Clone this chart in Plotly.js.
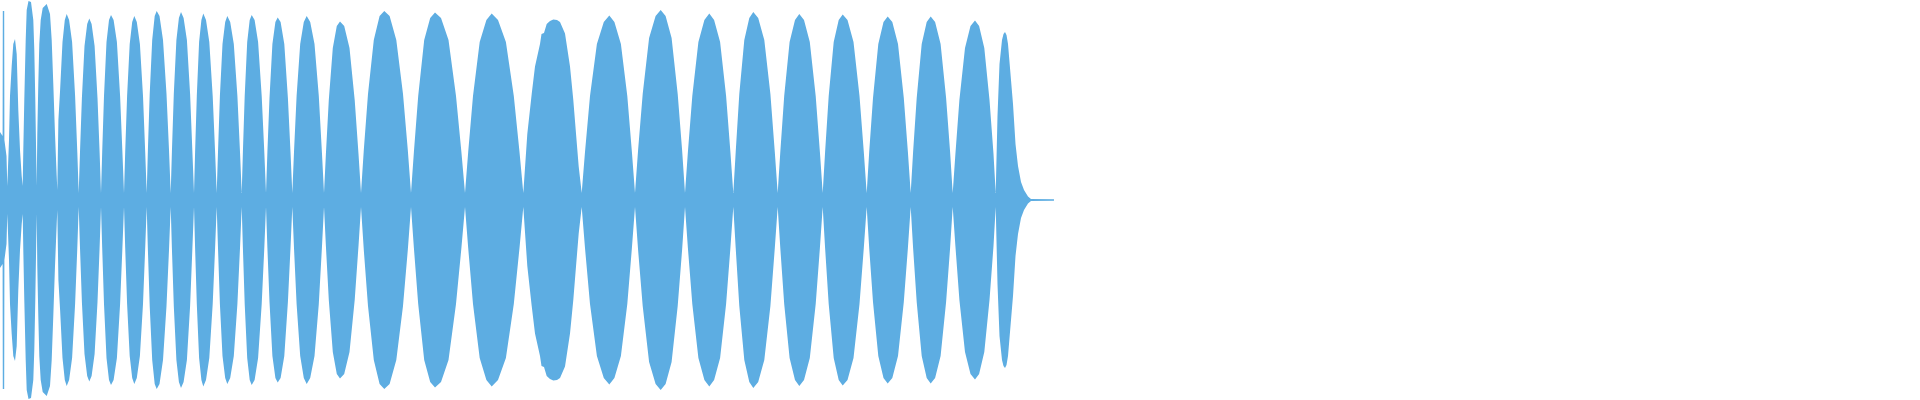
<!DOCTYPE html>
<html>
<head>
<meta charset="utf-8">
<script src="https://cdn.plot.ly/plotly-3.0.1.min.js"></script>
<style>html,body{margin:0;padding:0;background:#fff;}#chart{width:1920px;height:400px;}</style>
</head>
<body>
<div id="chart"></div>
<script>
// Waveform envelope: sample position and peak amplitude (symmetric about 0)
const samplePos = [
  0, 2.6, 2.8, 4.2, 4.4, 6.5, 7.3,
  9, 10, 11.7, 13.3, 15, 16.7, 18.3, 20, 21.7, 22.7,
  23.3, 24.3, 25.7, 26.7, 28.5, 31, 33.3, 34.3, 35.3, 36.1, 36.7,
  37.3, 38.3, 39.3, 40.7, 42.7, 46.7, 50, 51.7, 53.3, 55, 56.7, 57.3,
  58.4, 60.1, 62.5, 64.8, 66.7, 69.1, 72.1, 75.1, 77.3, 78.7,
  80.0, 81.9, 84.5, 87.2, 89.3, 91.6, 94.6, 97.5, 99.6, 101,
  102.2, 104, 106.5, 109, 111, 113.6, 116.9, 120.1, 122.4, 124,
  125.2, 127.1, 129.7, 132.2, 134.3, 136.8, 139.9, 143, 145.2, 146.7,
  147.9, 149.7, 152.2, 154.7, 156.7, 159.5, 163, 166.5, 169, 170.7,
  171.9, 173.8, 176.4, 178.9, 181, 183.6, 186.9, 190.1, 192.4, 194,
  195.1, 196.8, 199.1, 201.4, 203.3, 206, 209.3, 212.7, 215.1, 216.7,
  218, 219.9, 222.5, 225.2, 227.3, 230.2, 233.8, 237.4, 240, 241.7,
  242.9, 244.7, 247.2, 249.7, 251.7, 254.6, 258.1, 261.7, 264.3, 266,
  267.4, 269.5, 272.4, 275.4, 277.7, 280.6, 284.3, 287.9, 290.5, 292.3,
  294, 296.6, 300.2, 303.8, 306.7, 310.2, 314.5, 318.8, 321.9, 324,
  325.9, 328.8, 332.8, 336.8, 340, 344.2, 349.5, 354.7, 358.5, 361,
  363.8, 368, 373.8, 379.6, 384.3, 389.6, 396.3, 403, 407.8, 411,
  413.9, 418.2, 424.2, 430.2, 435, 441, 448.5, 456, 461.4, 465,
  468.2, 473, 479.7, 486.4, 491.7, 498, 505.9, 513.8, 519.5, 523.3,
  527.3, 531.7, 535, 540, 541.5, 544, 546.7, 550, 553.3, 557, 560, 565, 570, 573.3, 576, 578.7, 581.7,
  585, 590, 596.9, 603.8, 609.3, 614.4, 620.9, 627.3, 631.9, 635,
  638.1, 642.7, 649.1, 655.6, 660.7, 665.6, 671.6, 677.7, 682.1, 685,
  687.9, 692.3, 698.4, 704.4, 709.3, 714.1, 720.1, 726.1, 730.4, 733.3,
  735.7, 739.3, 744.3, 749.3, 753.3, 758.2, 764.3, 770.4, 774.8, 777.7,
  780.3, 784.2, 789.6, 795, 799.3, 804, 809.8, 815.7, 819.9, 822.7,
  825.1, 828.7, 833.7, 838.7, 842.7, 847.5, 853.5, 859.5, 863.8, 866.7,
  869.2, 873, 878.3, 883.5, 887.7, 892.3, 898, 903.8, 907.9, 910.7,
  913.1, 916.7, 921.7, 926.7, 930.7, 935.1, 940.6, 946.1, 950.1, 952.7,
  955.4, 959.4, 965, 970.5, 975, 979.1, 984.3, 989.5, 993.5, 995.7,
  997.5, 999.5, 1002, 1003.5, 1005, 1006.5, 1008, 1010.5, 1013, 1015.5, 1018, 1021, 1024, 1028, 1031,
  1054
];
const amplitude = [
  0.34, 0.32, 0.945, 0.945, 0.3, 0.22, 0.07,
  0.3, 0.52, 0.67, 0.78, 0.805, 0.73, 0.45, 0.25, 0.12, 0.07,
  0.25, 0.5, 0.8, 0.95, 0.995, 0.99, 0.9, 0.75, 0.5, 0.25, 0.07,
  0.33, 0.58, 0.78, 0.9, 0.96, 0.98, 0.93, 0.8, 0.58, 0.33, 0.12, 0.05,
  0.4, 0.55, 0.79, 0.9, 0.93, 0.9, 0.79, 0.52, 0.24, 0.035,
  0.24, 0.51, 0.77, 0.88, 0.908, 0.88, 0.77, 0.51, 0.24, 0.035,
  0.24, 0.52, 0.79, 0.9, 0.925, 0.9, 0.79, 0.52, 0.24, 0.035,
  0.24, 0.52, 0.78, 0.89, 0.92, 0.89, 0.78, 0.52, 0.24, 0.035,
  0.25, 0.53, 0.8, 0.92, 0.945, 0.92, 0.8, 0.53, 0.25, 0.035,
  0.24, 0.53, 0.8, 0.91, 0.94, 0.91, 0.8, 0.53, 0.24, 0.035,
  0.24, 0.52, 0.79, 0.9, 0.933, 0.9, 0.79, 0.52, 0.24, 0.035,
  0.24, 0.52, 0.78, 0.89, 0.92, 0.89, 0.78, 0.52, 0.24, 0.035,
  0.24, 0.52, 0.79, 0.9, 0.925, 0.9, 0.79, 0.52, 0.24, 0.035,
  0.24, 0.51, 0.78, 0.89, 0.913, 0.89, 0.78, 0.51, 0.24, 0.035,
  0.24, 0.52, 0.78, 0.89, 0.92, 0.89, 0.78, 0.52, 0.24, 0.035,
  0.23, 0.5, 0.76, 0.87, 0.892, 0.87, 0.76, 0.5, 0.23, 0.035,
  0.25, 0.53, 0.8, 0.92, 0.945, 0.92, 0.8, 0.53, 0.25, 0.035,
  0.24, 0.52, 0.8, 0.91, 0.937, 0.91, 0.8, 0.52, 0.24, 0.035,
  0.24, 0.52, 0.79, 0.9, 0.933, 0.9, 0.79, 0.52, 0.24, 0.035,
  0.33, 0.53, 0.667, 0.78, 0.83, 0.835, 0.88, 0.895, 0.903, 0.9, 0.89, 0.833, 0.667, 0.5, 0.333, 0.167, 0.035,
  0.24, 0.52, 0.78, 0.89, 0.922, 0.89, 0.78, 0.52, 0.24, 0.035,
  0.25, 0.53, 0.81, 0.92, 0.95, 0.92, 0.81, 0.53, 0.25, 0.035,
  0.24, 0.52, 0.79, 0.9, 0.933, 0.9, 0.79, 0.52, 0.24, 0.035,
  0.24, 0.53, 0.8, 0.91, 0.94, 0.91, 0.8, 0.53, 0.24, 0.035,
  0.24, 0.52, 0.79, 0.9, 0.93, 0.9, 0.79, 0.52, 0.24, 0.035,
  0.24, 0.52, 0.79, 0.9, 0.927, 0.9, 0.79, 0.52, 0.24, 0.035,
  0.24, 0.51, 0.78, 0.89, 0.917, 0.89, 0.78, 0.51, 0.24, 0.035,
  0.24, 0.51, 0.78, 0.89, 0.917, 0.89, 0.78, 0.51, 0.24, 0.035,
  0.23, 0.5, 0.76, 0.87, 0.897, 0.87, 0.76, 0.5, 0.23, 0.035,
  0.42, 0.68, 0.8, 0.83, 0.84, 0.825, 0.78, 0.63, 0.48, 0.28, 0.17, 0.09, 0.05, 0.017, 0.005,
  0.004
];
const waveColor = '#5DADE2';

const xs = samplePos.concat(samplePos.slice().reverse());
const ys = amplitude.concat(amplitude.slice().reverse().map(v => -v));

const trace = {
  x: xs,
  y: ys,
  type: 'scatter',
  mode: 'lines',
  fill: 'toself',
  fillcolor: waveColor,
  line: {color: waveColor, width: 0, shape: 'linear', simplify: false},
  hoverinfo: 'skip',
  showlegend: false
};

const layout = {
  width: 1920,
  height: 400,
  margin: {l: 0, r: 0, t: 0, b: 0, pad: 0},
  paper_bgcolor: '#ffffff',
  plot_bgcolor: '#ffffff',
  showlegend: false,
  xaxis: {range: [0, 1920], visible: false, fixedrange: true},
  yaxis: {range: [-1, 1], visible: false, fixedrange: true}
};

Plotly.newPlot('chart', [trace], layout, {staticPlot: true, displayModeBar: false});
</script>
</body>
</html>
